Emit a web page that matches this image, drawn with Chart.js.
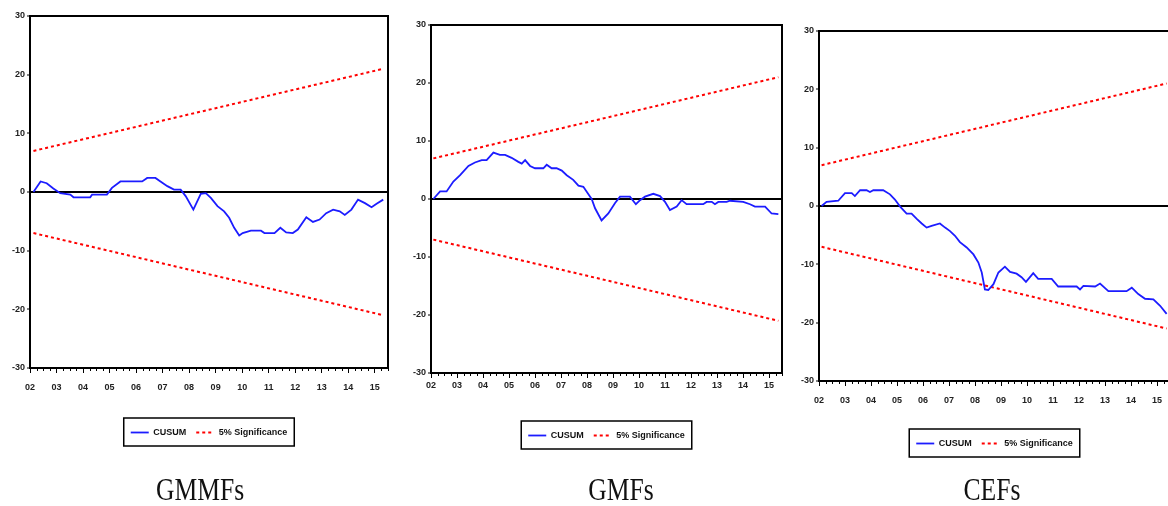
<!DOCTYPE html>
<html>
<head>
<meta charset="utf-8">
<script src="https://cdn.jsdelivr.net/npm/chart.js"></script>
<style>
  html, body { margin: 0; padding: 0; background: #fff; overflow: hidden; }
  body { width: 1168px; height: 506px; position: relative; }
  canvas { position: absolute; top: 0; }
</style>
</head>
<body>
<canvas id="gmmf" width="395" height="506" style="left:0px"></canvas>
<canvas id="gmf" width="391" height="506" style="left:395px"></canvas>
<canvas id="cef" width="390" height="506" style="left:786px"></canvas>
<script>
// x axis: years 2002..2015, labelled with two digits
const yearLabels = ['02', '03', '04', '05', '06', '07', '08', '09', '10', '11', '12', '13', '14', '15'];
const firstYear = 2002;

// 5% significance bounds (straight lines, start and end of sample)
const sigUpper = [7, 21];
const sigLower = [-7, -21];

// GMMFs
const gmmfDates = [2002.13, 2002.40, 2002.63, 2002.88, 2003.14, 2003.52, 2003.64, 2004.27, 2004.34, 2004.90,
  2005.09, 2005.41, 2006.23, 2006.42, 2006.73, 2006.92, 2007.18, 2007.43, 2007.68, 2007.87,
  2008.16, 2008.44, 2008.63, 2008.82, 2009.07, 2009.32, 2009.51, 2009.70, 2009.89, 2010.02,
  2010.33, 2010.71, 2010.84, 2011.22, 2011.44, 2011.66, 2011.91, 2012.10, 2012.42, 2012.67,
  2012.92, 2013.17, 2013.43, 2013.68, 2013.87, 2014.12, 2014.37, 2014.63, 2014.88, 2015.07, 2015.32];
const gmmfCusum = [0, 1.8, 1.5, 0.6, -0.2, -0.45, -0.9, -0.9, -0.45, -0.45,
  0.7, 1.8, 1.8, 2.4, 2.4, 1.8, 1.0, 0.4, 0.4, -0.7,
  -3.0, -0.3, -0.2, -1.0, -2.4, -3.3, -4.4, -6.1, -7.4, -7.0,
  -6.6, -6.6, -7.0, -7.0, -6.1, -6.9, -7.0, -6.4, -4.3, -5.1,
  -4.7, -3.6, -3.0, -3.3, -3.9, -3.0, -1.3, -1.9, -2.6, -2.0, -1.3];
const gmmfSigDates = [2002.13, 2015.32];

// GMFs
const gmfDates = [2002.09, 2002.35, 2002.60, 2002.86, 2003.12, 2003.44, 2003.69, 2003.95, 2004.14, 2004.40,
  2004.65, 2004.85, 2005.10, 2005.36, 2005.49, 2005.62, 2005.81, 2006.00, 2006.32, 2006.45,
  2006.64, 2006.83, 2007.03, 2007.22, 2007.47, 2007.67, 2007.86, 2008.12, 2008.18, 2008.31,
  2008.56, 2008.82, 2009.08, 2009.27, 2009.65, 2009.88, 2010.04, 2010.23, 2010.55, 2010.81,
  2011.00, 2011.19, 2011.45, 2011.64, 2011.83, 2012.47, 2012.60, 2012.80, 2012.92, 2013.05,
  2013.37, 2013.50, 2014.01, 2014.27, 2014.46, 2014.85, 2015.10, 2015.36];
const gmfCusum = [0, 1.3, 1.3, 3.0, 4.1, 5.7, 6.3, 6.7, 6.7, 8.0,
  7.6, 7.6, 7.1, 6.4, 6.1, 6.7, 5.7, 5.3, 5.3, 5.9,
  5.3, 5.3, 4.9, 4.1, 3.3, 2.3, 2.1, 0.4, 0, -1.6,
  -3.7, -2.5, -0.7, 0.4, 0.4, -0.9, -0.2, 0.4, 0.9, 0.5,
  -0.5, -1.9, -1.3, -0.2, -0.9, -0.9, -0.5, -0.5, -0.9, -0.5,
  -0.5, -0.3, -0.5, -0.9, -1.3, -1.3, -2.5, -2.6];
const gmfSigDates = [2002.09, 2015.36];

// CEFs
const cefDates = [2002.10, 2002.29, 2002.74, 2003.00, 2003.26, 2003.38, 2003.58, 2003.83, 2003.96, 2004.09,
  2004.47, 2004.73, 2004.92, 2005.12, 2005.37, 2005.56, 2005.76, 2005.95, 2006.14, 2006.33,
  2006.65, 2006.85, 2007.04, 2007.23, 2007.42, 2007.68, 2007.94, 2008.13, 2008.26, 2008.38,
  2008.51, 2008.71, 2008.90, 2009.15, 2009.35, 2009.60, 2009.79, 2009.96, 2010.24, 2010.43,
  2010.95, 2011.20, 2011.91, 2012.04, 2012.17, 2012.62, 2012.81, 2013.13, 2013.83, 2014.03,
  2014.28, 2014.54, 2014.86, 2015.12, 2015.37];
const cefCusum = [0, 0.7, 0.9, 2.2, 2.2, 1.7, 2.7, 2.7, 2.4, 2.7,
  2.7, 2.0, 1.1, -0.1, -1.3, -1.3, -2.2, -3.0, -3.7, -3.4,
  -3.0, -3.7, -4.3, -5.1, -6.2, -7.1, -8.3, -9.7, -11.4, -14.3,
  -14.4, -13.4, -11.4, -10.4, -11.3, -11.6, -12.2, -13.0, -11.5, -12.5,
  -12.5, -13.8, -13.8, -14.3, -13.7, -13.8, -13.3, -14.6, -14.6, -14.0,
  -15.1, -15.9, -16.0, -17.1, -18.5];
const cefSigDates = [2002.10, 2015.37];

const tickFont = { family: '"Liberation Sans", Arial, sans-serif', size: 9, weight: 'bold' };

// box round the plot + quarterly minor ticks on the date axis
const frame = {
  id: 'frame',
  afterDatasetsDraw(chart) {
    const { ctx, chartArea: a, scales } = chart;
    ctx.save();
    ctx.strokeStyle = '#000';
    ctx.lineWidth = 2;
    ctx.strokeRect(a.left, a.top, a.right - a.left, a.bottom - a.top);
    const x = scales.x;
    ctx.lineWidth = 1;
    ctx.beginPath();
    for (let q = Math.ceil(x.min * 4) / 4; q <= x.max; q += 0.25) {
      if (Number.isInteger(q)) continue;
      const px = Math.round(x.getPixelForValue(q)) + 0.5;
      ctx.moveTo(px, a.bottom);
      ctx.lineTo(px, a.bottom + 3);
    }
    ctx.stroke();
    ctx.restore();
  }
};

// rectangle round the legend items
const legendBox = {
  id: 'legendBox',
  afterDraw(chart) {
    const boxes = chart.legend.legendHitBoxes;
    if (!boxes || !boxes.length) return;
    const ctx = chart.ctx;
    const left = Math.min(...boxes.map(b => b.left)) - 7;
    const right = Math.max(...boxes.map(b => b.left + b.width)) + 7;
    const top = boxes[0].top - 10;
    const bottom = boxes[0].top + boxes[0].height + 9;
    ctx.save();
    ctx.strokeStyle = '#000';
    ctx.lineWidth = 1.5;
    ctx.strokeRect(left, top, right - left, bottom - top);
    ctx.restore();
  }
};

// panel caption under the legend
const caption = {
  id: 'caption',
  afterDraw(chart, args, opts) {
    const ctx = chart.ctx;
    ctx.save();
    ctx.font = '32px "Liberation Serif", "Times New Roman", serif';
    ctx.fillStyle = '#111';
    ctx.textAlign = 'center';
    ctx.textBaseline = 'alphabetic';
    ctx.translate(opts.x, opts.y);
    ctx.scale(0.8, 1);
    ctx.fillText(opts.text, 0, 0);
    ctx.restore();
  }
};

function points(xs, ys) {
  return xs.map((x, i) => ({ x: x, y: ys[i] }));
}

// legend samples take dash / colour / width from the dataset line
function legendLabels(chart) {
  return Chart.defaults.plugins.legend.labels.generateLabels(chart).map(item => {
    const ds = chart.data.datasets[item.datasetIndex];
    item.lineDash = ds.borderDash || [];
    item.strokeStyle = ds.borderColor;
    item.lineWidth = ds.borderWidth;
    return item;
  });
}

function makeChart(id, dates, cusum, sigDates, cfg) {
  const ctx = document.getElementById(id).getContext('2d');
  new Chart(ctx, {
    type: 'line',
    data: {
      datasets: [
        {
          label: 'CUSUM',
          data: points(dates, cusum),
          borderColor: '#1c1cff',
          borderWidth: 1.8,
          pointRadius: 0,
          pointStyle: 'line'
        },
        {
          label: '5% Significance',
          data: points(sigDates, sigUpper),
          borderColor: '#ff0000',
          borderWidth: 2,
          borderDash: [3, 3],
          pointRadius: 0,
          pointStyle: 'line'
        },
        {
          label: '5% Significance',
          data: points(sigDates, sigLower),
          borderColor: '#ff0000',
          borderWidth: 2,
          borderDash: [3, 3],
          pointRadius: 0,
          pointStyle: 'line'
        }
      ]
    },
    options: {
      responsive: false,
      animation: false,
      layout: { padding: { left: 0, right: cfg.padRight, top: cfg.top, bottom: cfg.padBottom } },
      plugins: {
        legend: {
          position: 'bottom',
          fullSize: false,
          labels: {
            generateLabels: legendLabels,
            filter: item => item.datasetIndex < 2,
            usePointStyle: true,
            pointStyle: 'line',
            pointStyleWidth: 18,
            boxHeight: 9,
            padding: 10,
            color: '#111',
            font: tickFont
          }
        },
        tooltip: { enabled: false },
        caption: { text: cfg.title, x: cfg.titleX, y: 500 }
      },
      scales: {
        x: {
          type: 'linear',
          min: 2002,
          max: 2015.5,
          afterFit: s => { s.height = cfg.xHeight; },
          border: { color: '#000', width: 1.5 },
          grid: { drawOnChartArea: false, drawTicks: true, tickLength: 5, tickColor: '#000' },
          ticks: {
            stepSize: 1,
            includeBounds: false,
            autoSkip: false,
            maxRotation: 0,
            padding: cfg.xPad,
            color: '#222',
            font: tickFont,
            callback: v => yearLabels[v - firstYear]
          }
        },
        y: {
          min: -30,
          max: 30,
          afterFit: s => { s.width = cfg.yWidth; },
          border: { color: '#000', width: 2 },
          grid: {
            color: c => (c.tick && c.tick.value === 0 ? '#000' : 'rgba(0,0,0,0)'),
            lineWidth: 2,
            tickColor: '#000',
            tickWidth: 1,
            tickLength: 3
          },
          ticks: { stepSize: 10, padding: 2, color: '#222', font: tickFont }
        }
      }
    },
    plugins: [frame, legendBox, caption]
  });
}

makeChart('gmmf', gmmfDates, gmmfCusum, gmmfSigDates,
  { title: 'GMMFs', titleX: 200, top: 16, padRight: 7, padBottom: 59, xHeight: 50, xPad: 9, yWidth: 30 });
makeChart('gmf', gmfDates, gmfCusum, gmfSigDates,
  { title: 'GMFs', titleX: 226, top: 25, padRight: 4, padBottom: 56, xHeight: 48, xPad: 2, yWidth: 36 });
makeChart('cef', cefDates, cefCusum, cefSigDates,
  { title: 'CEFs', titleX: 206, top: 31, padRight: 6, padBottom: 48, xHeight: 48, xPad: 9, yWidth: 33 });
</script>
</body>
</html>
